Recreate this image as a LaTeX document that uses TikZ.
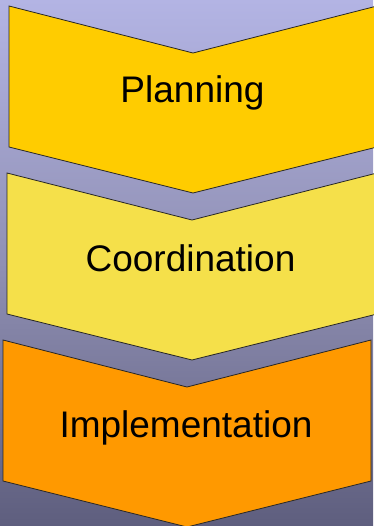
\documentclass[tikz,border=0pt]{standalone}
\usepackage{fontspec}
\setmainfont{Liberation Sans}
\definecolor{bgtop}{HTML}{B3B4E4}
\definecolor{bgmid}{HTML}{9090B4}
\definecolor{bgbot}{HTML}{5E5E7E}
\definecolor{c1}{HTML}{FFCC00}
\definecolor{c2}{HTML}{F5E04A}
\definecolor{c3}{HTML}{FF9900}
\tikzset{
  chev/.style={draw=black!85, line width=0.8pt, line join=miter},
  lbl/.style={font=\fontsize{37}{40}\selectfont, text=black, anchor=base, inner sep=0pt}
}
\begin{document}
\begin{tikzpicture}[x=1pt,y=-1pt]
\useasboundingbox (0,0) rectangle (373,526);
\shade[top color=bgtop, bottom color=bgbot, middle color=bgmid] (0,0) rectangle (373,526);
% chevron 1
\filldraw[chev, fill=c1] (9,6) -- (193,53) -- (377,6) -- (377,147) -- (193,193) -- (9,147) -- cycle;
% chevron 2
\filldraw[chev, fill=c2] (7,173) -- (192,220) -- (377,173) -- (377,314) -- (192,360) -- (7,314) -- cycle;
% chevron 3
\filldraw[chev, fill=c3] (3,340) -- (187,387) -- (371,340) -- (371,481) -- (187,527) -- (3,481) -- cycle;
\node[lbl] (p) at (192.5,102.7) {Planning};
\node[lbl] (c) at (190.5,271) {Coordination};
\node[lbl] (i) at (186,437.3) {Implementation};
\end{tikzpicture}
\end{document}
